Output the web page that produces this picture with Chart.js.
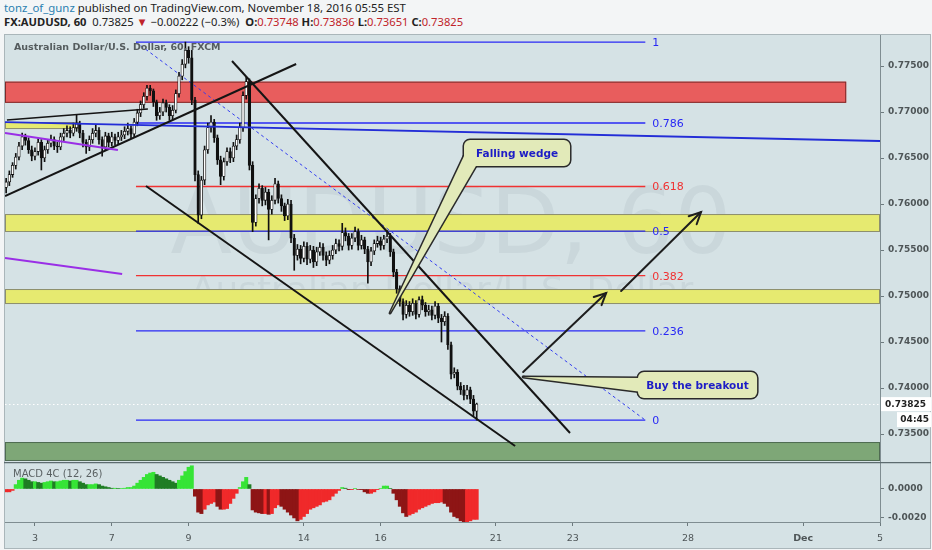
<!DOCTYPE html>
<html><head><meta charset="utf-8">
<script src="https://cdn.jsdelivr.net/npm/chart.js@4.4.1/dist/chart.umd.min.js"></script>
<style>
html,body{margin:0;padding:0;width:932px;height:550px;overflow:hidden;background:#f3f5f6;font-family:"DejaVu Sans",sans-serif;}
.hd{position:absolute;left:4px;white-space:nowrap;color:#222;}
#h1{top:0px;font-size:11.4px;font-family:"Noto Sans",sans-serif;}
#h2{top:14px;font-size:11.2px;font-family:"Noto Sans",sans-serif;}
#h1 .user{color:#2a7fb0;}
.r{color:#c0242a;}
#frame{position:absolute;left:4px;top:34px;width:927px;height:515px;background:#d5e2e5;border:1px solid #aab6ba;box-sizing:border-box;}
canvas{position:absolute;left:0;}
#c1{top:35px;}
#c2{top:462px;}
</style></head><body>
<div id="h1" class="hd"></div>
<div id="h2" class="hd"></div>
<div id="frame"></div>
<canvas id="c1" width="932" height="427"></canvas>
<canvas id="c2" width="932" height="86"></canvas>
<script>
// ---------------- data ----------------
const author = 'tonz_of_gunz';
const publishedText = 'published on TradingView.com, November 18, 2016 05:55 EST';
const symbolText = 'FX:AUDUSD, 60';
const changeText = '\u22120.00222 (\u22120.3%)';
const paneTitle = 'Australian Dollar/U.S. Dollar, 60, FXCM';
const watermarkMain = 'AUDUSD, 60';
const watermarkSub = 'Australian Dollar/U.S. Dollar';
const timeLeft = '04:45';

const barStartDay = -0.75;   // trading-day units, 0 = Nov 3 session
const barsPerDay = 12;       // 2-hour bars
const firstOpen = 0.7618;
const closes = [
0.7624,0.7632,0.7642,0.7651,0.7663,0.7673,0.7669,0.7659,0.7652,0.7657,
0.7667,0.7650,0.7659,0.7666,0.7670,0.7663,0.7662,0.7673,0.7677,0.7680,
0.7677,0.7683,0.7687,0.7677,0.7667,0.7662,0.7670,0.7677,0.7680,0.7670,
0.7662,0.7674,0.7667,0.7673,0.7669,0.7673,0.7675,0.7679,0.7682,0.7676,
0.7689,0.7699,0.7708,0.7717,0.7726,0.7723,0.7711,0.7696,0.7700,0.7710,
0.7705,0.7696,0.7702,0.7720,0.7739,0.7752,0.7767,0.7759,0.7713,0.7632,
0.7588,0.7626,0.7659,0.7683,0.7689,0.7672,0.7648,0.7630,0.7646,0.7657,
0.7650,0.7663,0.7670,0.7683,0.7718,0.7733,0.7642,0.7580,0.7606,0.7617,
0.7604,0.7613,0.7594,0.7604,0.7622,0.7606,0.7598,0.7587,0.7600,0.7563,
0.7544,0.7551,0.7541,0.7554,0.7540,0.7550,0.7537,0.7548,0.7553,0.7544,
0.7539,0.7544,0.7550,0.7557,0.7554,0.7569,0.7565,0.7555,0.7563,0.7570,
0.7555,0.7561,0.7551,0.7537,0.7549,0.7557,0.7560,0.7555,0.7562,0.7565,
0.7548,0.7526,0.7508,0.7494,0.7480,0.7490,0.7483,0.7492,0.7480,0.7496,
0.7490,0.7483,0.7485,0.7479,0.7489,0.7476,0.7472,0.7478,0.7447,0.7415,
0.7417,0.7402,0.7398,0.7392,0.7398,0.7388,0.73748,0.73825];
const highs = [
0.7628,0.7636,0.7645,0.7655,0.7667,0.7677,0.7676,0.7672,0.7663,0.7661,
0.7671,0.7670,0.7663,0.7670,0.7675,0.7673,0.7667,0.7677,0.7682,0.7685,
0.7684,0.7688,0.7697,0.7690,0.7680,0.7670,0.7674,0.7682,0.7686,0.7683,
0.7673,0.7678,0.7677,0.7678,0.7676,0.7678,0.7680,0.7684,0.7688,0.7685,
0.7693,0.7703,0.7712,0.7721,0.7729,0.7729,0.7725,0.7713,0.7705,0.7714,
0.7713,0.7708,0.7707,0.7724,0.7743,0.7757,0.7776,0.7771,0.7767,0.7716,
0.7636,0.7630,0.7663,0.7688,0.7696,0.7692,0.7675,0.7652,0.7650,0.7661,
0.7661,0.7667,0.7675,0.7688,0.7722,0.7738,0.7736,0.7646,0.7610,0.7622,
0.7620,0.7618,0.7616,0.7609,0.7628,0.7625,0.7610,0.7601,0.7605,0.7604,
0.7567,0.7556,0.7555,0.7559,0.7558,0.7555,0.7554,0.7553,0.7558,0.7557,
0.7548,0.7549,0.7555,0.7562,0.7561,0.7579,0.7574,0.7568,0.7568,0.7575,
0.7573,0.7566,0.7564,0.7554,0.7553,0.7561,0.7565,0.7564,0.7566,0.7571,
0.7568,0.7551,0.7529,0.7511,0.7497,0.7495,0.7494,0.7497,0.7495,0.7499,
0.7500,0.7493,0.7490,0.7489,0.7494,0.7492,0.7480,0.7483,0.7481,0.7450,
0.7422,0.7420,0.7406,0.7403,0.7403,0.7401,0.7392,0.73836];
const lows = [
0.7612,0.7620,0.7629,0.7638,0.7648,0.7659,0.7664,0.7655,0.7647,0.7648,
0.7653,0.7637,0.7646,0.7655,0.7662,0.7659,0.7656,0.7659,0.7669,0.7673,
0.7672,0.7674,0.7679,0.7672,0.7662,0.7655,0.7658,0.7666,0.7673,0.7665,
0.7652,0.7658,0.7662,0.7663,0.7664,0.7665,0.7669,0.7671,0.7675,0.7671,
0.7673,0.7685,0.7695,0.7704,0.7713,0.7718,0.7706,0.7691,0.7692,0.7696,
0.7700,0.7691,0.7692,0.7699,0.7716,0.7735,0.7748,0.7753,0.7708,0.7625,
0.7579,0.7584,0.7621,0.7655,0.7678,0.7667,0.7643,0.7621,0.7626,0.7642,
0.7645,0.7646,0.7659,0.7666,0.7679,0.7714,0.7637,0.7570,0.7576,0.7601,
0.7598,0.7599,0.7561,0.7589,0.7600,0.7601,0.7592,0.7582,0.7583,0.7558,
0.7528,0.7539,0.7535,0.7537,0.7534,0.7536,0.7531,0.7533,0.7544,0.7539,
0.7533,0.7535,0.7540,0.7546,0.7549,0.7550,0.7560,0.7550,0.7551,0.7559,
0.7550,0.7551,0.7546,0.7514,0.7533,0.7545,0.7553,0.7550,0.7551,0.7558,
0.7543,0.7521,0.7503,0.7489,0.7474,0.7476,0.7478,0.7479,0.7475,0.7477,
0.7485,0.7478,0.7479,0.7474,0.7475,0.7471,0.7450,0.7468,0.7442,0.7410,
0.7411,0.7398,0.7393,0.7387,0.7388,0.7383,0.7370,0.73651];
const macd = [
-0.0002,-0.0002,-0.0001,0.0003,0.0006,0.00075,0.0007,0.0006,0.0005,0.0005,
0.00045,0.0004,0.00045,0.0005,0.00055,0.0005,0.0005,0.00055,0.0006,0.0006,
0.00055,0.0006,0.0006,0.0005,0.0004,0.0003,0.0003,0.0003,0.00035,0.0003,
0.0002,0.00015,0.0001,0.00005,0.00005,0.00003,0.00003,0.00005,0.0001,0.0001,
0.0002,0.0004,0.0006,0.0008,0.001,0.0011,0.00115,0.001,0.0009,0.0008,
0.0007,0.0006,0.0005,0.0004,0.0006,0.0009,0.0012,0.0015,0.0016,-0.0005,
-0.0016,-0.0017,-0.0014,-0.0011,-0.001,-0.0009,-0.0012,-0.0014,-0.0014,-0.00135,
-0.001,-0.00065,-0.0003,0.0001,0.0005,0.0008,0.0003,-0.00145,-0.0016,-0.00165,
-0.0017,-0.0017,-0.00175,-0.0017,-0.0013,-0.0011,-0.0012,-0.0014,-0.0016,-0.0018,
-0.002,-0.0022,-0.0021,-0.0019,-0.0017,-0.0014,-0.0013,-0.0012,-0.0011,-0.0009,
-0.00085,-0.00075,-0.0005,-0.0003,-0.0001,0.0001,0.00005,-0.00005,-0.00005,0.00003,
-0.00003,-0.00005,-0.0002,-0.0003,-0.0003,-0.0002,-0.00005,0.00003,0.0002,0.0002,
0.00003,-0.0003,-0.00075,-0.0012,-0.00165,-0.0019,-0.0018,-0.0017,-0.0016,-0.0014,
-0.0013,-0.0012,-0.0011,-0.001,-0.00095,-0.00095,-0.0009,-0.001,-0.0012,-0.0016,
-0.0019,-0.002,-0.0022,-0.0023,-0.0023,-0.0022,-0.0021,-0.0021];

const xTickPos = [0,2,4,7,9,12,14,17,20,22];
const xTickLabels = ['3','7','9','14','16','21','23','28','Dec','5'];
const xMin = -0.78, xMax = 22.0;
const yTicks = [0.735,0.740,0.745,0.750,0.755,0.760,0.765,0.770,0.775];
const yMin = 0.73196, yMax = 0.77837;
const macdTicks = [0, -0.002];
const macdMin = -0.00228, macdMax = 0.00186;

// drawings, in (trading-day, price) units
const fibHigh = 0.7776, fibLow = 0.73651;
const fibLevels = [1, 0.786, 0.618, 0.5, 0.382, 0.236, 0];
const fibRed = [0.618, 0.382];
const fibStart = 2.63, fibEnd = 15.89;
const zoneRed = [-0.78, 21.12, 0.7710, 0.7733];
const zoneYellowA = [-0.78, 1.15, 0.76815, 0.76891];
const zoneYellowB = [-0.78, 22.0, 0.75696, 0.75891];
const zoneYellowC = [-0.78, 22.0, 0.74913, 0.75076];
const zoneGreen = [-0.78, 22.0, 0.73207, 0.73413];
const lineBlue = [-0.78, 0.76891, 22.0, 0.76685];
const lineTop = [-0.73, 0.76913, 2.94, 0.77033];
const lineRise = [-0.78, 0.76087, 6.80, 0.77522];
const linePurpleA = [-0.78, 0.76772, 2.16, 0.76587];
const linePurpleB = [-0.78, 0.75413, 2.27, 0.75239];
const wedgeLow = [2.89, 0.76196, 12.5, 0.73370];
const wedgeHigh = [5.13, 0.77554, 13.93, 0.73511];
const arrowA = [12.71, 0.74174, 14.87, 0.75033];
const arrowB = [15.26, 0.75054, 17.34, 0.75913];
const calloutWedge = {text:'Falling wedge', box:[11.17, 0.76696, 13.93, 0.76413], ptr:[[11.17,0.76522],[11.48,0.76413],[9.245,0.74815]]};
const calloutBuy = {text:'Buy the breakout', box:[15.70, 0.74174, 18.80, 0.73891], ptr:[[15.81,0.74109],[15.81,0.73957],[12.71,0.74120]]};

// ---------------- derived ----------------
const opens = closes.map((c,i) => i ? closes[i-1] : firstOpen);
const times = closes.map((c,i) => barStartDay + i / barsPerDay);
const last = closes.length - 1;

document.getElementById('h1').innerHTML = '<span class="user">'+author+'</span> '+publishedText;
document.getElementById('h2').innerHTML = '<b>'+symbolText+'</b>&nbsp; '+closes[last].toFixed(5)+' <span class="r">\u25BC</span> '+changeText+
 ' &nbsp;<b>O:</b><span class="r">'+opens[last].toFixed(5)+'</span> <b>H:</b><span class="r">'+highs[last].toFixed(5)+
 '</span> <b>L:</b><span class="r">'+lows[last].toFixed(5)+'</span> <b>C:</b><span class="r">'+closes[last].toFixed(5)+'</span>';

const FONT = '"DejaVu Sans", sans-serif';
const px = (c,d) => c.scales.x.getPixelForValue(d);
const py = (c,p) => c.scales.y.getPixelForValue(p);
function seg(ctx,x1,y1,x2,y2){ctx.beginPath();ctx.moveTo(x1,y1);ctx.lineTo(x2,y2);ctx.stroke();}
function rrect(ctx,x,y,w,h,r){ctx.beginPath();ctx.moveTo(x+r,y);ctx.lineTo(x+w-r,y);ctx.arcTo(x+w,y,x+w,y+r,r);ctx.lineTo(x+w,y+h-r);ctx.arcTo(x+w,y+h,x+w-r,y+h,r);ctx.lineTo(x+r,y+h);ctx.arcTo(x,y+h,x,y+h-r,r);ctx.lineTo(x,y+r);ctx.arcTo(x,y,x+r,y,r);ctx.closePath();}

const backPlugin = {id:'back', beforeDatasetsDraw(c){
  const ctx=c.ctx, a=c.chartArea;
  ctx.save(); ctx.beginPath(); ctx.rect(a.left,a.top,a.width,a.height); ctx.clip();
  ctx.fillStyle='rgba(20,45,55,0.055)'; ctx.textAlign='center'; ctx.textBaseline='middle';
  ctx.font='90px '+FONT; ctx.fillText(watermarkMain, a.left+446, a.top+195);
  ctx.font='36px '+FONT; ctx.fillText(watermarkSub, a.left+437, a.top+258);
  const zone=(z,fill,stroke)=>{const x0=px(c,z[0]),x1=px(c,z[1]),y0=py(c,z[3]),y1=py(c,z[2]);
    ctx.fillStyle=fill; ctx.fillRect(x0,y0,x1-x0,y1-y0); ctx.strokeStyle=stroke; ctx.lineWidth=1; ctx.strokeRect(x0+0.5,y0+0.5,x1-x0-1,y1-y0-1);};
  zone(zoneRed,'#e85d5d','#7e2a2a');
  zone(zoneYellowA,'#e6ea70','#8c8e6e');
  zone(zoneYellowB,'#e6ea70','#8c8e6e');
  zone(zoneYellowC,'#e6ea70','#8c8e6e');
  zone(zoneGreen,'#7ea777','#4f6b52');
  // fib retracement
  const fx0=px(c,fibStart), fx1=px(c,fibEnd);
  ctx.font='11px '+FONT; ctx.textAlign='left'; ctx.textBaseline='middle';
  fibLevels.forEach(l=>{const p=fibLow+l*(fibHigh-fibLow); const y=py(c,p);
    const col=fibRed.includes(l)?'rgb(240,50,50)':'rgb(40,40,245)';
    ctx.lineWidth=1.3; ctx.strokeStyle=col; seg(ctx,fx0,y,fx1,y);
    ctx.fillStyle=col; ctx.fillText(String(l), fx1+7, y+1);});
  ctx.lineWidth=1; ctx.setLineDash([3,3]); ctx.strokeStyle='rgb(50,60,240)';
  seg(ctx,fx0,py(c,fibHigh),fx1,py(c,fibLow)); ctx.setLineDash([]);
  // current price dotted line
  ctx.strokeStyle='#ffffff'; ctx.setLineDash([1.5,2.5]); const yc=Math.round(py(c,closes[last]))+0.5;
  seg(ctx,a.left,yc,a.right,yc); ctx.setLineDash([]);
  ctx.restore();
}};

function drawLine(c,L,color,w){const ctx=c.ctx; ctx.strokeStyle=color; ctx.lineWidth=w; seg(ctx,px(c,L[0]),py(c,L[1]),px(c,L[2]),py(c,L[3]));}
function drawArrow(c,L){const ctx=c.ctx; const x1=px(c,L[0]),y1=py(c,L[1]),x2=px(c,L[2]),y2=py(c,L[3]);
  ctx.strokeStyle='#1e1e1e'; ctx.lineWidth=2; ctx.lineCap='round'; seg(ctx,x1,y1,x2,y2);
  const ang=Math.atan2(y2-y1,x2-x1), hl=13, sp=0.45;
  ctx.beginPath(); ctx.moveTo(x2-hl*Math.cos(ang-sp),y2-hl*Math.sin(ang-sp)); ctx.lineTo(x2,y2); ctx.lineTo(x2-hl*Math.cos(ang+sp),y2-hl*Math.sin(ang+sp)); ctx.stroke(); ctx.lineCap='butt';}
function drawCallout(c,co){const ctx=c.ctx; const x0=px(c,co.box[0]),y0=py(c,co.box[1]),x1=px(c,co.box[2]),y1=py(c,co.box[3]);
  const P=co.ptr.map(p=>[px(c,p[0]),py(c,p[1])]);
  const ptrPath=()=>{ctx.beginPath();ctx.moveTo(P[0][0],P[0][1]);ctx.lineTo(P[2][0],P[2][1]);ctx.lineTo(P[1][0],P[1][1]);ctx.closePath();};
  ctx.strokeStyle='#2a2a2a'; ctx.lineWidth=3; ctx.lineJoin='round';
  ptrPath(); ctx.stroke(); rrect(ctx,x0,y0,x1-x0,y1-y0,6); ctx.stroke();
  ctx.fillStyle='#e2eab9'; ptrPath(); ctx.fill(); rrect(ctx,x0,y0,x1-x0,y1-y0,6); ctx.fill();
  ctx.fillStyle='#1d1dc6'; ctx.font='bold 10.5px '+FONT; ctx.textAlign='center'; ctx.textBaseline='middle';
  ctx.fillText(co.text,(x0+x1)/2,(y0+y1)/2+1);}

const frontPlugin = {id:'front', afterDatasetsDraw(c){
  const ctx=c.ctx, a=c.chartArea;
  ctx.save(); ctx.beginPath(); ctx.rect(a.left,a.top,a.width,a.height); ctx.clip();
  drawLine(c,lineBlue,'rgb(35,45,215)',1.8);
  drawLine(c,lineTop,'#151515',1.6);
  drawLine(c,lineRise,'#151515',2);
  drawLine(c,linePurpleA,'#9a2fe6',2);
  drawLine(c,linePurpleB,'#9a2fe6',2);
  drawLine(c,wedgeLow,'#151515',2);
  drawLine(c,wedgeHigh,'#151515',2);
  drawArrow(c,arrowA); drawArrow(c,arrowB);
  drawCallout(c,calloutWedge); drawCallout(c,calloutBuy);
  ctx.fillStyle='#555c5e'; ctx.font='bold 9.5px '+FONT; ctx.textAlign='left'; ctx.textBaseline='middle';
  ctx.fillText(paneTitle, a.left+9, a.top+13);
  ctx.restore();
}, afterDraw(c){
  const ctx=c.ctx, a=c.chartArea; const y=py(c,closes[last]);
  ctx.save(); ctx.fillStyle='#ffffff'; ctx.fillRect(a.right+1,y-7,50,14); ctx.fillRect(a.right+17,y+8,34,15);
  ctx.fillStyle='#222'; ctx.font='bold 9px '+FONT; ctx.textAlign='left'; ctx.textBaseline='middle';
  ctx.fillText(closes[last].toFixed(5), a.right+5, y+0.5);
  ctx.textAlign='right'; ctx.fillText(timeLeft, a.right+49, y+15.5);
  ctx.restore();
}};

const axisFont = {family:'"DejaVu Sans"', size:9, weight:'bold'};
const yAxisCommon = {position:'right', afterFit(s){s.width=52; s.paddingTop=0; s.paddingBottom=0;},
  grid:{display:true, drawOnChartArea:false, drawTicks:true, tickLength:4, color:'#6d7a7e'},
  border:{display:true, color:'#7f8d91'}};

new Chart(document.getElementById('c1'), {
  type:'bar',
  data:{datasets:[
    {label:'wick', data:times.map((t,i)=>({x:t, y:[lows[i], highs[i]]})), backgroundColor:'#111111',
     barThickness:1, grouped:false, order:2, borderWidth:0},
    {label:'body', data:times.map((t,i)=>({x:t, y:[Math.min(opens[i],closes[i]), Math.max(opens[i],closes[i])]})),
     backgroundColor:closes.map((cl,i)=> cl>=opens[i] ? '#ffffff' : '#111111'), borderColor:'#111111', borderWidth:0.8,
     borderSkipped:false, barThickness:2.6, grouped:false, order:1, minBarLength:1}
  ]},
  options:{responsive:false, animation:false, events:[],
    layout:{padding:{left:5, right:0, top:0, bottom:0}},
    plugins:{legend:{display:false}, tooltip:{enabled:false}},
    scales:{
      x:{type:'linear', min:xMin, max:xMax, display:false, offset:false, grid:{offset:false},
        afterFit(s){s.paddingLeft=0; s.paddingRight=0; s.height=0;}},
      y:Object.assign({}, yAxisCommon, {type:'linear', min:yMin, max:yMax,
        afterBuildTicks(s){s.ticks=yTicks.map(v=>({value:v}));},
        ticks:{autoSkip:false, padding:4, color:'#4e5557', font:axisFont, callback:v=>Number(v).toFixed(5)}})
    }},
  plugins:[backPlugin, frontPlugin]
});

// MACD 4C colouring: above zero lime when rising / green when falling; below zero maroon when falling / red when rising
const macdColors = macd.map((v,i)=>{const p=i?macd[i-1]:v;
  if(v>=0) return v>=p ? '#36e436' : '#1f7d24';
  return v<p ? '#8e1515' : '#f0292a';});

const macdPlugin = {id:'macdp', afterDraw(c){
  const ctx=c.ctx, a=c.chartArea; ctx.save();
  ctx.fillStyle='#5a6163'; ctx.font='10px '+FONT; ctx.textAlign='left'; ctx.textBaseline='middle';
  ctx.fillText('MACD 4C (12, 26)', a.left+8, a.top+12);
  ctx.strokeStyle='#5d6b6f'; ctx.lineWidth=1.5; seg(ctx,a.left-1,a.top+0.5,931,a.top+0.5);
  ctx.restore();
}};

new Chart(document.getElementById('c2'), {
  type:'bar',
  data:{datasets:[{label:'MACD', data:times.map((t,i)=>({x:t, y:macd[i]})), backgroundColor:macdColors,
    barThickness:3.3, grouped:false, borderWidth:0}]},
  options:{responsive:false, animation:false, events:[],
    layout:{padding:{left:5, right:0, top:0, bottom:0}},
    plugins:{legend:{display:false}, tooltip:{enabled:false}},
    scales:{
      x:{type:'linear', min:xMin, max:xMax, offset:false, afterFit(s){s.height=26; s.paddingLeft=0; s.paddingRight=0;},
        afterBuildTicks(s){s.ticks=xTickPos.map(v=>({value:v}));},
        grid:{display:true, drawOnChartArea:false, drawTicks:true, tickLength:4, color:'#6d7a7e', offset:false},
        border:{display:true, color:'#7f8d91'},
        ticks:{autoSkip:false, maxRotation:0, padding:7, color:'#4e5557',
          font:(ctx)=>({family:'"DejaVu Sans"', size:9.5, weight:(ctx.tick && ctx.tick.label==='Dec')?'bold':'normal'}),
          callback:(v,i)=>xTickLabels[i]}},
      y:Object.assign({}, yAxisCommon, {type:'linear', min:macdMin, max:macdMax,
        afterBuildTicks(s){s.ticks=macdTicks.map(v=>({value:v}));},
        ticks:{autoSkip:false, padding:4, color:'#4e5557', font:axisFont, callback:v=>Number(v).toFixed(4)}})
    }},
  plugins:[macdPlugin]
});
</script>
</body></html>
